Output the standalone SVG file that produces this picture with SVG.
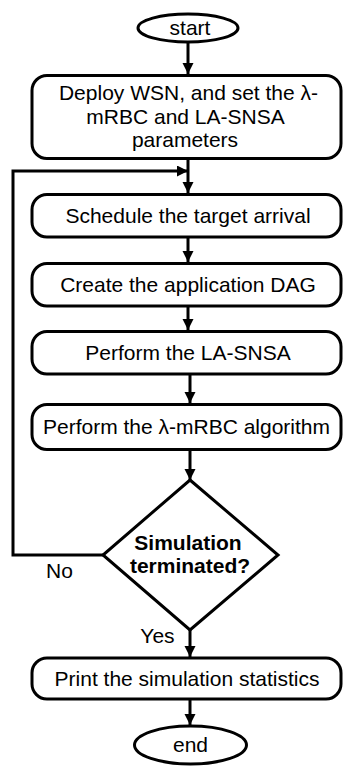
<svg xmlns="http://www.w3.org/2000/svg" width="343" height="766" viewBox="0 0 343 766">
<style>
.n{fill:#fff;stroke:#000;stroke-width:3}
.t{font-family:"Liberation Sans",Arial,sans-serif;font-size:21px;fill:#000;text-anchor:middle}
.b{font-weight:bold}
.c{fill:none;stroke:#000;stroke-width:3}
</style>
<defs>
<marker id="ah" markerUnits="userSpaceOnUse" markerWidth="12" markerHeight="12" refX="11" refY="5.5" orient="auto">
<path d="M0,0 L11,5.5 L0,11 z" fill="#000"/>
</marker>
</defs>
<rect width="343" height="766" fill="#fff"/>
<g id="connectors">
<line class="c" x1="188" y1="42" x2="188" y2="74" marker-end="url(#ah)"/>
<line class="c" x1="188" y1="159" x2="188" y2="193" marker-end="url(#ah)"/>
<polyline class="c" points="103,555 13,555 13,171 188,171" marker-end="url(#ah)"/>
<line class="c" x1="188" y1="238" x2="188" y2="262" marker-end="url(#ah)"/>
<line class="c" x1="188" y1="307" x2="188" y2="330" marker-end="url(#ah)"/>
<line class="c" x1="190" y1="375" x2="190" y2="403" marker-end="url(#ah)"/>
<line class="c" x1="190" y1="450" x2="190" y2="480" marker-end="url(#ah)"/>
<line class="c" x1="190" y1="630" x2="190" y2="657" marker-end="url(#ah)"/>
<line class="c" x1="190" y1="700" x2="190" y2="725" marker-end="url(#ah)"/>
<text class="t" x="59.5" y="578">No</text>
<text class="t" x="157.5" y="643">Yes</text>
</g>
<g id="start">
<ellipse class="n" cx="188" cy="28" rx="50" ry="14"/>
<text class="t" x="190" y="35">start</text>
</g>
<g id="deploy">
<rect class="n" x="32" y="75.5" width="309" height="83" rx="15"/>
<text class="t" x="188.5" y="100">Deploy WSN, and set the λ-</text>
<text class="t" x="185.5" y="124">mRBC and LA-SNSA</text>
<text class="t" x="185" y="147">parameters</text>
</g>
<g id="schedule">
<rect class="n" x="32" y="194.5" width="309" height="42.5" rx="15"/>
<text class="t" x="188" y="223">Schedule the target arrival</text>
</g>
<g id="create">
<rect class="n" x="32" y="263.5" width="309" height="42.5" rx="15"/>
<text class="t" x="188" y="292">Create the application DAG</text>
</g>
<g id="lasnsa">
<rect class="n" x="32" y="331.5" width="309" height="42.5" rx="15"/>
<text class="t" x="188" y="360">Perform the LA-SNSA</text>
</g>
<g id="mrbc">
<rect class="n" x="32" y="404.5" width="309" height="45" rx="15"/>
<text class="t" x="186.5" y="434">Perform the λ-mRBC algorithm</text>
</g>
<g id="decision">
<polygon class="n" points="190,480 278,555 190,630 103,555"/>
<text class="t b" x="188" y="550">Simulation</text>
<text class="t b" x="190" y="573">terminated?</text>
</g>
<g id="print">
<rect class="n" x="32" y="658" width="309" height="41" rx="15"/>
<text class="t" x="187" y="686">Print the simulation statistics</text>
</g>
<g id="end">
<ellipse class="n" cx="190.5" cy="745" rx="56" ry="19"/>
<text class="t" x="190.5" y="752">end</text>
</g>
</svg>
